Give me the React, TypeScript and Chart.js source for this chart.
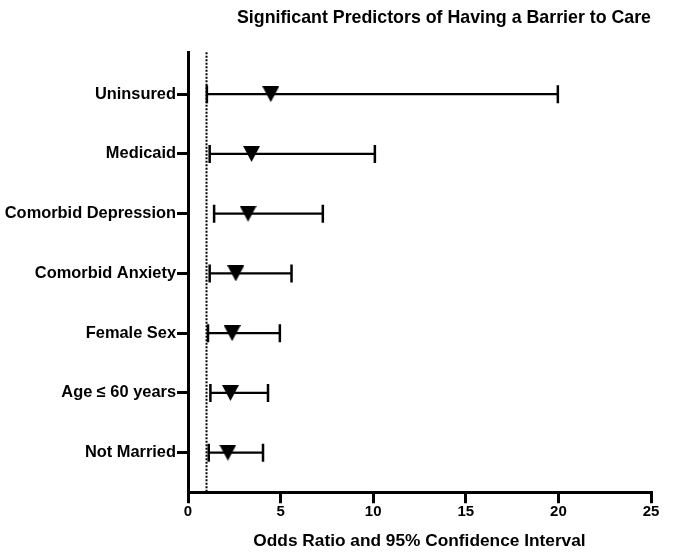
import React, { useEffect, useRef } from "react";
import { Chart, registerables } from "chart.js";

Chart.register(...registerables);

const chartTitle = "Significant Predictors of Having a Barrier to Care";
const xAxisTitle = "Odds Ratio and 95% Confidence Interval";
const categories = [
  "Uninsured",
  "Medicaid",
  "Comorbid Depression",
  "Comorbid Anxiety",
  "Female Sex",
  "Age ≤ 60 years",
  "Not Married",
];
const oddsRatio = [4.47, 3.43, 3.24, 2.58, 2.38, 2.29, 2.15];
const ciLow = [1.02, 1.17, 1.41, 1.17, 1.08, 1.21, 1.12];
const ciHigh = [19.97, 10.09, 7.28, 5.59, 4.96, 4.32, 4.05];
const referenceOR = 1;
const xTicks = [0, 5, 10, 15, 20, 25];

const FONT = "'Liberation Sans', Arial, Helvetica, sans-serif";

function makeTriangle(): HTMLCanvasElement {
  const c = document.createElement("canvas");
  c.width = 17;
  c.height = 16;
  const g = c.getContext("2d")!;
  g.fillStyle = "#000";
  g.beginPath();
  g.moveTo(0, 0);
  g.lineTo(17, 0);
  g.lineTo(8.5, 16);
  g.closePath();
  g.fill();
  return c;
}

const errorBarPlugin = {
  id: "errorBars",
  beforeDatasetsDraw(chart: any) {
    const { ctx, chartArea, scales } = chart;
    const x = scales.x;
    const y = scales.y;
    ctx.save();
    ctx.strokeStyle = "#000";
    // reference line at OR = 1
    ctx.lineWidth = 2;
    ctx.setLineDash([2, 1.5]);
    const rx = x.getPixelForValue(referenceOR);
    ctx.beginPath();
    ctx.moveTo(rx, chartArea.top);
    ctx.lineTo(rx, chartArea.bottom);
    ctx.stroke();
    ctx.setLineDash([]);
    categories.forEach((_, i) => {
      const py = y.getPixelForValue(categories.length - i);
      const x1 = x.getPixelForValue(ciLow[i]);
      const x2 = x.getPixelForValue(ciHigh[i]);
      ctx.lineWidth = 2.2;
      ctx.beginPath();
      ctx.moveTo(x1, py);
      ctx.lineTo(x2, py);
      ctx.stroke();
      ctx.lineWidth = 2.5;
      ctx.beginPath();
      ctx.moveTo(x1, py - 9);
      ctx.lineTo(x1, py + 9);
      ctx.moveTo(x2, py - 9);
      ctx.lineTo(x2, py + 9);
      ctx.stroke();
    });
    ctx.restore();
  },
};

export default function App() {
  const ref = useRef<HTMLCanvasElement>(null);

  useEffect(() => {
    if (!ref.current) return;
    const tri = makeTriangle();
    const n = categories.length;
    const chart = new Chart(ref.current, {
      type: "scatter",
      data: {
        datasets: [
          {
            data: categories.map((_, i) => ({ x: oddsRatio[i], y: n - i })),
            pointStyle: tri as any,
            pointRadius: 8,
            pointHoverRadius: 8,
            backgroundColor: "#000",
            borderColor: "#000",
          },
        ],
      },
      options: {
        responsive: false,
        animation: false,
        layout: { padding: { left: 0, right: 22, top: 0, bottom: 8 } },
        plugins: {
          legend: { display: false },
          tooltip: { enabled: false },
          title: {
            display: true,
            text: chartTitle,
            align: "end",
            color: "#000",
            font: { family: FONT, size: 17.8, weight: "bold" },
            padding: { top: 7, bottom: 24 },
          },
        },
        scales: {
          x: {
            type: "linear",
            min: 0,
            max: 25,
            afterBuildTicks: (s: any) => {
              s.ticks = xTicks.map((v) => ({ value: v }));
            },
            grid: {
              display: true,
              drawOnChartArea: false,
              drawTicks: true,
              tickLength: 11,
              tickWidth: 3,
              tickColor: "#000",
              color: "#000",
              lineWidth: 3,
            },
            border: { display: true, color: "#000", width: 3 },
            ticks: {
              color: "#000",
              padding: 0,
              maxRotation: 0,
              font: { family: FONT, size: 15, weight: "bold" },
            },
            title: {
              display: true,
              text: xAxisTitle,
              color: "#000",
              font: { family: FONT, size: 17.3, weight: "bold" },
              padding: { top: 10, bottom: 0 },
            },
          },
          y: {
            type: "linear",
            min: 0.337,
            max: 7.7,
            afterBuildTicks: (s: any) => {
              s.ticks = categories.map((_, i) => ({ value: n - i }));
            },
            afterFit: (s: any) => {
              s.width = 188;
            },
            grid: {
              display: true,
              drawOnChartArea: false,
              drawTicks: true,
              tickLength: 11,
              tickWidth: 3,
              tickColor: "#000",
              color: "#000",
              lineWidth: 3,
            },
            border: { display: true, color: "#000", width: 3 },
            ticks: {
              color: "#000",
              padding: 1,
              font: { family: FONT, size: 16.4, weight: "bold" },
              callback: (v: any) => categories[n - Number(v)] ?? "",
            },
          },
        },
      },
      plugins: [errorBarPlugin],
    });
    return () => chart.destroy();
  }, []);

  return (
    <div
      style={{
        position: "absolute",
        left: 0,
        top: 0,
        width: 673,
        height: 560,
        background: "#fff",
      }}
    >
      <canvas ref={ref} width={673} height={560} style={{ display: "block" }} />
    </div>
  );
}
